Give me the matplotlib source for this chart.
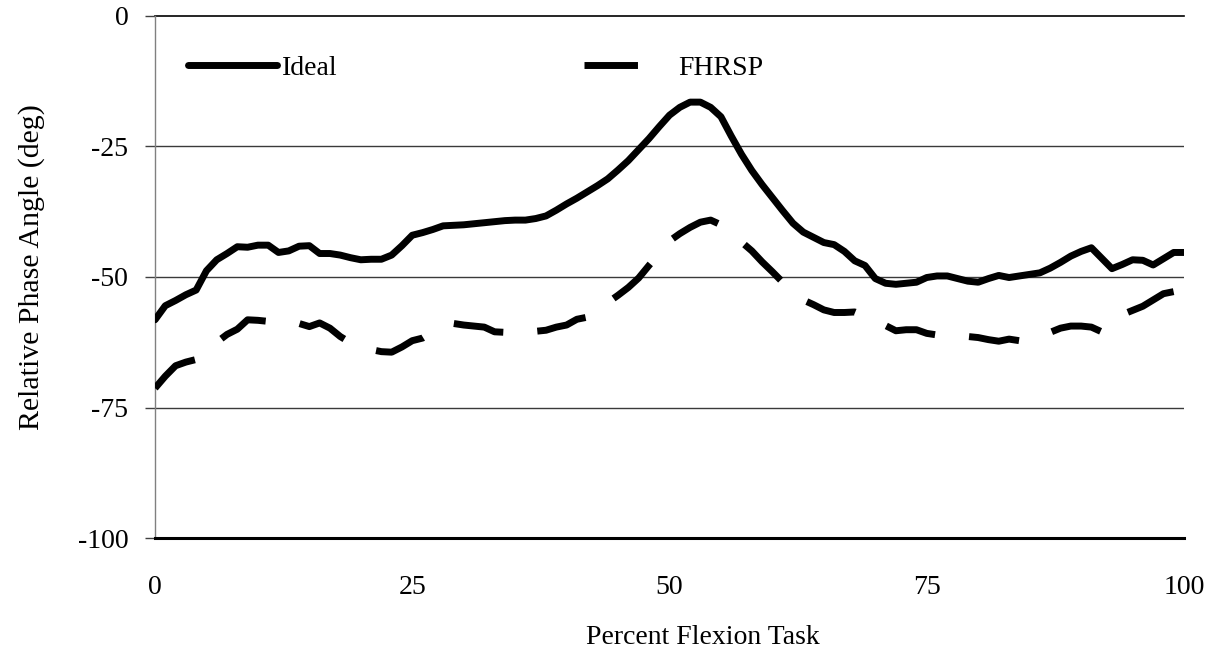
import matplotlib
matplotlib.use("Agg")
import matplotlib.pyplot as plt
from matplotlib.lines import Line2D

# ---- data ----
pct = list(range(0, 101))

ideal = [-58.2, -55.5, -54.5, -53.4, -52.5, -48.8, -46.7, -45.5, -44.2, -44.3,
         -43.9, -43.9, -45.3, -45.0, -44.1, -44.0, -45.5, -45.5, -45.8, -46.3,
         -46.7, -46.6, -46.6, -45.8, -44.0, -42.0, -41.5, -40.9, -40.2, -40.1,
         -40.0, -39.8, -39.6, -39.4, -39.2, -39.1, -39.1, -38.8, -38.3, -37.2,
         -36.0, -34.9, -33.7, -32.5, -31.2, -29.5, -27.7, -25.6, -23.5, -21.2,
         -19.0, -17.5, -16.5, -16.5, -17.5, -19.3, -23.0, -26.5, -29.6, -32.3,
         -34.8, -37.3, -39.7, -41.4, -42.4, -43.4, -43.8, -45.1, -46.9, -47.8,
         -50.3, -51.2, -51.4, -51.2, -51.0, -50.1, -49.8, -49.8, -50.3, -50.8,
         -51.0, -50.3, -49.7, -50.1, -49.8, -49.5, -49.2, -48.3, -47.2, -46.0,
         -45.1, -44.4, -46.4, -48.4, -47.6, -46.7, -46.8, -47.7, -46.5, -45.3,
         -45.3]

fhrsp = [-71.3, -69.0, -67.0, -66.3, -65.8, -64.0, -62.5, -61.0, -60.0, -58.2,
         -58.3, -58.5, -58.6, -58.7, -58.9, -59.5, -58.8, -59.8, -61.4, -62.6,
         -63.4, -63.9, -64.3, -64.4, -63.4, -62.2, -61.7, -60.5, -59.5, -58.9,
         -59.2, -59.4, -59.6, -60.5, -60.6, -60.5, -60.4, -60.4, -60.2, -59.6,
         -59.2, -58.1, -57.7, -56.5, -54.9, -53.5, -52.0, -50.2, -47.8, -45.5,
         -43.1, -41.7, -40.5, -39.5, -39.1, -40.0, -41.8, -43.3, -45.0, -47.1,
         -49.0, -51.0, -52.8, -54.4, -55.3, -56.3, -56.8, -56.8, -56.7, -57.5,
         -58.5, -59.3, -60.3, -60.1, -60.1, -60.8, -61.1, -61.2, -61.3, -61.4,
         -61.6, -62.0, -62.3, -61.9, -62.2, -61.8, -61.2, -60.6, -59.8, -59.4,
         -59.4, -59.6, -60.5, -59.0, -57.2, -56.4, -55.6, -54.4, -53.2, -52.8,
         -52.6]

x_ticks = [0, 25, 50, 75, 100]
y_ticks = [-100, -75, -50, -25, 0]
series_names = ["Ideal", "FHRSP"]

# ---- figure ----
plt.rcParams['font.family'] = ['Liberation Serif', 'DejaVu Serif']
W, H = 1217, 661
fig = plt.figure(figsize=(W / 100, H / 100), dpi=100)
left_px, right_px, top_px, bottom_px = 155, 1184, 16, 538
ax = fig.add_axes([left_px / W, 1 - bottom_px / H,
                   (right_px - left_px) / W, (bottom_px - top_px) / H])

ax.set_xlim(0, 100)
ax.set_ylim(-100, 0)

FS = 20

# gridlines
for yv in y_ticks[1:-1]:
    ax.axhline(yv, color='#3a3a3a', lw=1.0, zorder=1)
ax.axhline(0, color='black', lw=1.2, zorder=1, clip_on=False)

l1, = ax.plot(pct, ideal, color='black', lw=5.0, solid_capstyle='round',
              solid_joinstyle='round', label=series_names[0], zorder=3)
l2, = ax.plot(pct, fhrsp, color='black', lw=5.0, dashes=(7.3, 4.9),
              dash_capstyle='butt', label=series_names[1], zorder=3)

# spines
for s in ['top', 'right']:
    ax.spines[s].set_visible(False)
ax.spines['left'].set_color('#808080')
ax.spines['left'].set_linewidth(1.0)
ax.spines['bottom'].set_color('black')
ax.spines['bottom'].set_linewidth(2.2)
ax.spines['bottom'].set_zorder(4)

ax.set_xticks(x_ticks)
ax.set_yticks(y_ticks)
ax.set_xticklabels([str(v) for v in x_ticks])
ax.set_yticklabels([str(v) for v in y_ticks])
ax.tick_params(axis='x', length=0, pad=27, labelsize=FS)
ax.tick_params(axis='y', length=7.2, width=1.0, color='#404040',
               direction='out', pad=12, labelsize=FS)

ax.set_xlabel("Percent Flexion Task", fontsize=FS)
ax.xaxis.set_label_coords((703 - left_px) / (right_px - left_px),
                          (bottom_px - 625) / (bottom_px - top_px))
ax.set_ylabel("Relative Phase Angle (deg)", fontsize=21.5)
ax.yaxis.set_label_coords((45 - left_px) / (right_px - left_px),
                          (bottom_px - 267) / (bottom_px - top_px))

# legend (proxy handles so the dashed sample shows a single dash)
h1 = Line2D([], [], color='black', lw=5.0, solid_capstyle='round')
h2 = Line2D([], [], color='black', lw=5.0, dashes=(7.7, 6.0),
            dash_capstyle='butt')
fs_px = FS * 100 / 72
ideal_w = 2.0 * fs_px
leg = ax.legend(handles=[h1, h2], labels=series_names, ncol=2, frameon=False,
                fontsize=FS, loc='center left',
                bbox_to_anchor=((188 - left_px) / (right_px - left_px),
                                (bottom_px - 68) / (bottom_px - top_px)),
                borderpad=0, borderaxespad=0,
                handlelength=89 / fs_px, handletextpad=5 / fs_px,
                columnspacing=(584 - 282 - ideal_w) / fs_px)

fig.savefig("out.png", dpi=100)
